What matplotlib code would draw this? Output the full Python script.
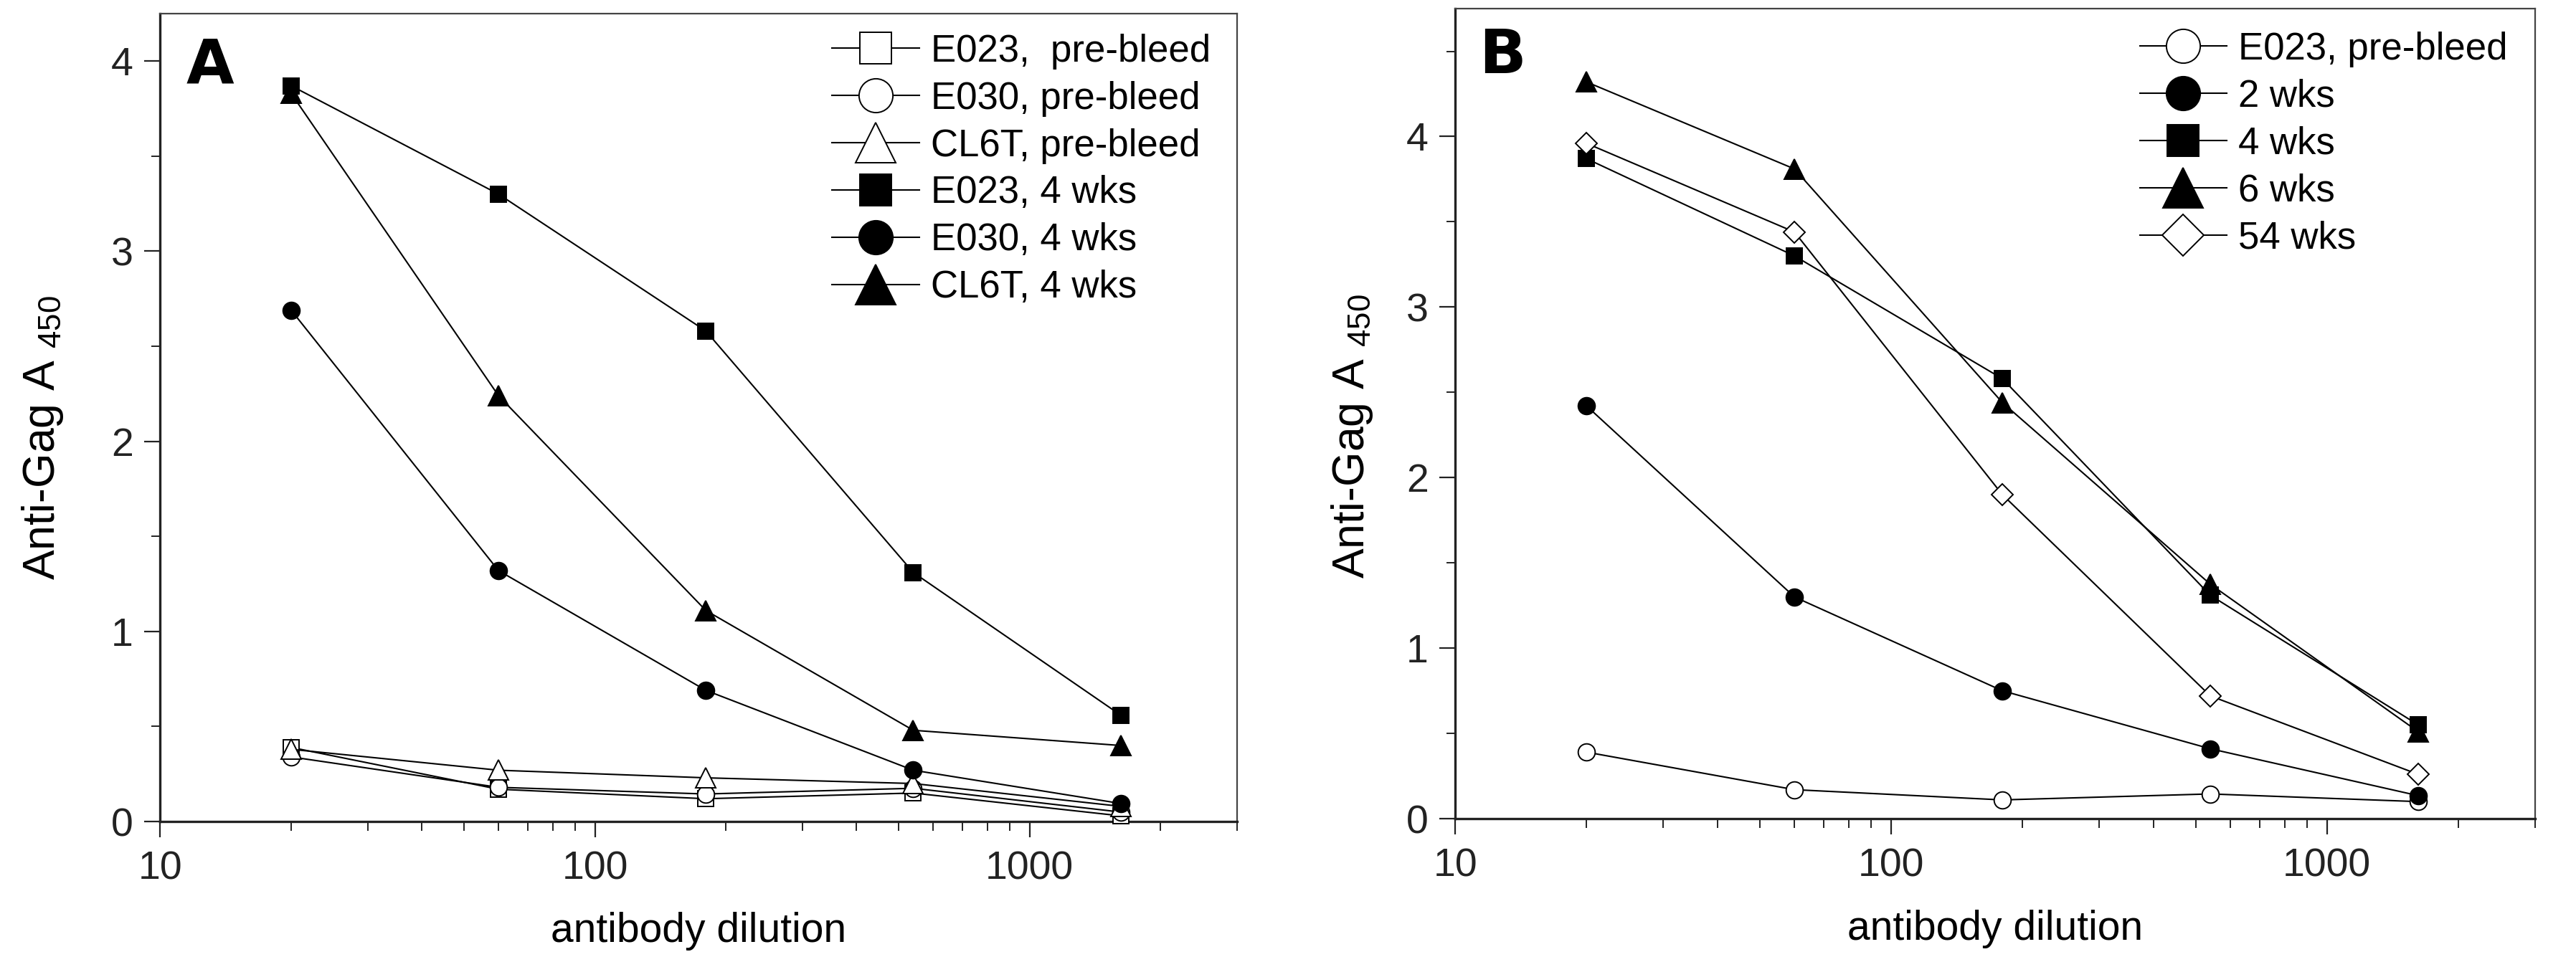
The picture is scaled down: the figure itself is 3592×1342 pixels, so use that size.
import numpy as np
import matplotlib
matplotlib.use('Agg')
import matplotlib.pyplot as plt
from matplotlib.ticker import LogLocator, FixedLocator, FuncFormatter, MultipleLocator

plt.rcParams['font.family'] = ['Liberation Sans', 'DejaVu Sans']
plt.rcParams['mathtext.fontset'] = 'custom'
plt.rcParams['mathtext.rm'] = 'Liberation Sans'

# --- data ---
dilution = [20, 60, 180, 540, 1620]

# panel A
a_labels = ['E023,  pre-bleed', 'E030, pre-bleed', 'CL6T, pre-bleed',
            'E023, 4 wks', 'E030, 4 wks', 'CL6T, 4 wks']
a_e023_pre = [0.39, 0.17, 0.12, 0.15, 0.03]
a_e030_pre = [0.34, 0.18, 0.145, 0.175, 0.05]
a_cl6t_pre = [0.38, 0.27, 0.23, 0.20, 0.08]
a_e023_4wk = [3.87, 3.30, 2.58, 1.31, 0.56]
a_e030_4wk = [2.69, 1.32, 0.69, 0.27, 0.095]
a_cl6t_4wk = [3.83, 2.24, 1.11, 0.48, 0.40]

# panel B (E023 over time)
b_labels = ['E023, pre-bleed', '2 wks', '4 wks', '6 wks', '54 wks']
b_pre = [0.39, 0.17, 0.11, 0.145, 0.10]
b_2wk = [2.42, 1.30, 0.75, 0.41, 0.135]
b_4wk = [3.87, 3.30, 2.58, 1.31, 0.55]
b_6wk = [4.32, 3.81, 2.44, 1.375, 0.51]
b_54wk = [3.96, 3.44, 1.90, 0.72, 0.26]

TICK_FS = 40
XLABEL_FS = 41
YLABEL_FS = 45
LEG_FS = 38


def style_axes(ax, ymax):
    ax.set_xscale('log')
    ax.set_xlim(10, 3000)
    ax.set_ylim(0, ymax)
    ax.xaxis.set_major_locator(FixedLocator([10, 100, 1000]))
    ax.xaxis.set_minor_locator(LogLocator(base=10, subs=np.arange(2, 10), numticks=20))
    ax.xaxis.set_major_formatter(FuncFormatter(lambda v, p: f"{int(v)}"))
    ax.xaxis.set_minor_formatter(FuncFormatter(lambda v, p: ""))
    ax.yaxis.set_major_locator(MultipleLocator(1))
    ax.yaxis.set_minor_locator(MultipleLocator(0.5))
    ax.tick_params(which='both', direction='out', top=False, right=False,
                   labelsize=TICK_FS, colors='#222222')
    ax.tick_params(which='major', length=16, width=1.6)
    ax.tick_params(which='minor', length=9, width=1.4)
    ax.tick_params(axis='x', which='major', pad=13)
    ax.tick_params(axis='y', which='major', pad=11)
    for side in ['left', 'bottom']:
        ax.spines[side].set_linewidth(2.4)
        ax.spines[side].set_color('#222222')
    for side in ['top', 'right']:
        ax.spines[side].set_linewidth(1.6)
        ax.spines[side].set_color('#444444')
    ax.set_xlabel('antibody dilution', fontsize=XLABEL_FS)
    ax.set_ylabel(r'Anti-Gag A $\mathregular{_{450}}$', fontsize=YLABEL_FS)


def plot_series(ax, y, marker, filled, ms, label):
    ax.plot(dilution, y, color='black', lw=1.5, marker=marker, ms=ms,
            mfc='black' if filled else 'white', mec='black', mew=1.4,
            label=label, clip_on=False, zorder=3)


def add_legend(ax, x0, y0):
    ax.legend(loc='upper left', bbox_to_anchor=(x0, y0), frameon=False,
              fontsize=LEG_FS, markerscale=2.0, handlelength=2.3,
              handletextpad=0.3, labelspacing=0.3, borderpad=0, borderaxespad=0)


fig = plt.figure(figsize=(35.92, 13.42), dpi=100)
axA = fig.add_axes([0.0622, 0.146, 0.418, 0.840])
axB = fig.add_axes([0.565, 0.149, 0.419, 0.842])

# --- panel A ---
plot_series(axA, a_e023_pre, 's', False, 16, a_labels[0])
plot_series(axA, a_e030_pre, 'o', False, 17, a_labels[1])
plot_series(axA, a_cl6t_pre, '^', False, 20, a_labels[2])
plot_series(axA, a_e023_4wk, 's', True, 16, a_labels[3])
plot_series(axA, a_e030_4wk, 'o', True, 17, a_labels[4])
plot_series(axA, a_cl6t_4wk, '^', True, 20, a_labels[5])
style_axes(axA, 4.25)
axA.xaxis.set_label_coords(0.5, -0.112)
axA.yaxis.set_label_coords(-0.088, 0.475)
axA.text(0.024, 0.972, 'A', transform=axA.transAxes, fontsize=62,
         fontweight='heavy', family='DejaVu Sans', va='top', ha='left')
add_legend(axA, 0.624, 0.975)

# --- panel B ---
plot_series(axB, b_pre, 'o', False, 17, b_labels[0])
plot_series(axB, b_2wk, 'o', True, 17, b_labels[1])
plot_series(axB, b_4wk, 's', True, 16, b_labels[2])
plot_series(axB, b_6wk, '^', True, 20, b_labels[3])
plot_series(axB, b_54wk, 'D', False, 15, b_labels[4])
style_axes(axB, 4.75)
axB.xaxis.set_label_coords(0.5, -0.112)
axB.yaxis.set_label_coords(-0.075, 0.472)
axB.text(0.022, 0.978, 'B', transform=axB.transAxes, fontsize=62,
         fontweight='heavy', family='DejaVu Sans', va='top', ha='left')
add_legend(axB, 0.634, 0.972)

fig.savefig('out.png', dpi=100, facecolor='white')
